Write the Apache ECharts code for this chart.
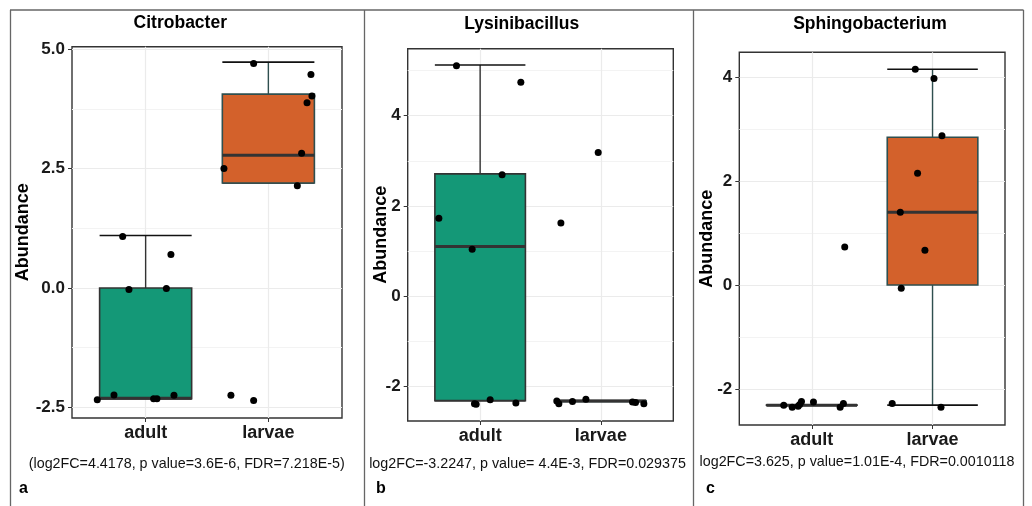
<!DOCTYPE html>
<html><head><meta charset="utf-8">
<script src="https://cdn.jsdelivr.net/npm/echarts@6/dist/echarts.min.js"></script>
<style>html,body{margin:0;padding:0;background:#fff}#c{width:1032px;height:506px}</style>
</head><body><div id="c"></div>
<script>
// ---- data ----
const categories = ['adult', 'larvae'];
const panelTitles = ['Citrobacter', 'Lysinibacillus', 'Sphingobacterium'];
const statTexts = [
  '(log2FC=4.4178, p value=3.6E-6, FDR=7.218E-5)',
  'log2FC=-3.2247, p value= 4.4E-3, FDR=0.029375',
  'log2FC=3.625, p value=1.01E-4, FDR=0.0010118'
];
const panelLetters = ['a', 'b', 'c'];
// y axis ranges and tick labels
const yRangeA = [-2.724, 5.054];
const yRangeB = [-2.76, 5.48];
const yRangeC = [-2.692, 4.475];
const yTicksA = [-2.5, 0, 2.5, 5];
const yTicksB = [-2, 0, 2, 4];
const yTicksC = [-2, 0, 2, 4];
const yMinorA = [-1.25, 1.25, 3.75];
const yMinorB = [-1, 1, 3, 5];
const yMinorC = [-1, 1, 3];
// box stats: [xIndex, lowerWhisker, Q1, median, Q3, upperWhisker]
const boxA = [[1, -2.32, -2.32, -2.31, 0.0, 1.10], [2, 2.20, 2.20, 2.78, 4.06, 4.73]];
const boxB = [[1, -2.31, -2.31, 1.10, 2.71, 5.12], [2, -2.33, -2.325, -2.32, -2.315, -2.31]];
const boxC = [[1, -2.315, -2.312, -2.31, -2.308, -2.305], [2, -2.31, 0.0, 1.40, 2.84, 4.15]];
// jittered points [x, y]
const pointsA = [
  [0.606, -2.34], [0.742, -2.24], [0.813, 1.08], [0.864, -0.03], [1.065, -2.32], [1.092, -2.32],
  [1.169, -0.01], [1.206, 0.70], [1.231, -2.25],
  [1.638, 2.50], [1.695, -2.25], [1.880, 4.70], [1.880, -2.36], [2.236, 2.14], [2.271, 2.82],
  [2.315, 3.88], [2.347, 4.47], [2.355, 4.02]
];
const pointsB = [
  [0.658, 1.73], [0.804, 5.10], [0.934, 1.04], [0.953, -2.38], [0.967, -2.39], [1.083, -2.29],
  [1.182, 2.69], [1.296, -2.36], [1.337, 4.74],
  [1.635, -2.32], [1.652, -2.38], [1.669, 1.62], [1.765, -2.33], [1.876, -2.28], [1.978, 3.18],
  [2.262, -2.34], [2.287, -2.35], [2.356, -2.38]
];
const pointsC = [
  [0.768, -2.31], [0.838, -2.35], [0.887, -2.33], [0.915, -2.24], [0.900, -2.30], [1.014, -2.25],
  [1.235, -2.35], [1.262, -2.28], [1.273, 0.73],
  [1.666, -2.28], [1.733, 1.40], [1.741, -0.06], [1.857, 4.15], [1.876, 2.15], [1.937, 0.67],
  [2.012, 3.97], [2.070, -2.35], [2.078, 2.87]
];

// ---- layout / styles ----
const FONT = '"Liberation Sans", Arial, sans-serif';
const fills = ['#149877', '#D3612B'];
const borders = ['#333333', '#2F4F4F'];
const grids = [
  {left: 72, top: 46.7, width: 270, height: 371.3},
  {left: 407.7, top: 48.7, width: 265.6, height: 372.3},
  {left: 739.3, top: 52.3, width: 265.7, height: 372.7}
];
const nameGaps = [40, 18, 23];
const panels = [
  {range: yRangeA, ticks: yTicksA, minor: yMinorA, box: boxA, pts: pointsA, fmt: v => v.toFixed(1)},
  {range: yRangeB, ticks: yTicksB, minor: yMinorB, box: boxB, pts: pointsB, fmt: v => String(v)},
  {range: yRangeC, ticks: yTicksC, minor: yMinorC, box: boxC, pts: pointsC, fmt: v => String(v)}
];

const option = {animation: false, grid: [], xAxis: [], yAxis: [], series: [], graphic: []};

panels.forEach((p, i) => {
  const g = grids[i];
  option.grid.push({left: g.left, top: g.top, width: g.width, height: g.height,
    show: true, borderColor: '#333333', borderWidth: 1.4, backgroundColor: '#fff', z: 0});
  option.xAxis.push({
    type: 'value', gridIndex: i, min: 0.4, max: 2.6,
    axisLine: {show: false, onZero: false},
    axisTick: {show: true, length: 4, lineStyle: {color: '#333', width: 1}, customValues: [1, 2]},
    axisLabel: {customValues: [1, 2], formatter: v => categories[Math.round(v) - 1] || '',
      fontFamily: FONT, fontWeight: 'bold', fontSize: 18, color: '#1a1a1a', margin: 6},
    splitLine: {show: true, lineStyle: {color: '#EBEBEB', width: 1.2}}
  });
  option.yAxis.push({
    type: 'value', gridIndex: i, min: p.range[0], max: p.range[1],
    name: 'Abundance', nameLocation: 'middle', nameRotate: 90, nameGap: nameGaps[i],
    nameMoveOverlap: false,
    nameTextStyle: {fontFamily: FONT, fontWeight: 'bold', fontSize: 18, color: '#000'},
    axisLine: {show: false, onZero: false},
    axisTick: {show: true, length: 4, lineStyle: {color: '#333', width: 1}, customValues: p.ticks},
    axisLabel: {customValues: p.ticks, formatter: p.fmt,
      fontFamily: FONT, fontWeight: 'bold', fontSize: 17, color: '#1a1a1a', margin: 7},
    splitLine: {show: true, lineStyle: {color: '#EBEBEB', width: 1.2}}
  });
});
// minor grid y axes
panels.forEach((p, i) => {
  option.yAxis.push({
    type: 'value', gridIndex: i, min: p.range[0], max: p.range[1],
    axisLine: {show: false, onZero: false}, axisLabel: {show: false},
    axisTick: {show: false, customValues: p.minor},
    splitLine: {show: true, lineStyle: {color: '#F3F3F3', width: 1}}
  });
});

function renderBox(params, api) {
  const x = api.value(0);
  const lo = api.value(1), q1 = api.value(2), med = api.value(3), q3 = api.value(4), hi = api.value(5);
  const half = api.size([0.75, 0])[0] / 2;
  const c = api.coord([x, med]);
  const y = v => api.coord([x, v])[1];
  const idx = params.dataIndex;
  const bc = borders[idx];
  return {
    type: 'group',
    children: [
      {type: 'line', shape: {x1: c[0], y1: y(hi), x2: c[0], y2: y(lo)}, style: {stroke: bc, lineWidth: 1.4}},
      {type: 'line', shape: {x1: c[0] - half, y1: y(hi), x2: c[0] + half, y2: y(hi)}, style: {stroke: '#111', lineWidth: 1.6}},
      {type: 'line', shape: {x1: c[0] - half, y1: y(lo), x2: c[0] + half, y2: y(lo)}, style: {stroke: '#111', lineWidth: 1.6}},
      {type: 'rect', shape: {x: c[0] - half, y: y(q3), width: 2 * half, height: y(q1) - y(q3)},
        style: {fill: fills[idx], stroke: bc, lineWidth: 1.6}},
      {type: 'line', shape: {x1: c[0] - half, y1: y(med), x2: c[0] + half, y2: y(med)}, style: {stroke: '#333', lineWidth: 3}}
    ]
  };
}

panels.forEach((p, i) => {
  option.series.push({
    type: 'custom', xAxisIndex: i, yAxisIndex: i, renderItem: renderBox,
    data: p.box, z: 2, silent: true
  });
  option.series.push({
    type: 'scatter', xAxisIndex: i, yAxisIndex: i, data: p.pts,
    symbol: 'circle', symbolSize: 7, itemStyle: {color: '#000', opacity: 1}, z: 3, silent: true
  });
});

// titles, stats, letters
const titleX = [180.3, 521.7, 870];
const titleY = [23.3, 24, 24];
const statX = [186.7, 527.5, 857];
const statY = [464, 464, 462];
const letterX = [19, 376, 706];
panelTitles.forEach((t, i) => {
  option.graphic.push({type: 'text', x: titleX[i], y: titleY[i],
    style: {text: t, fontFamily: FONT, fontWeight: 'bold', fontSize: 17.5, fill: '#000', align: 'center', verticalAlign: 'middle'}});
  option.graphic.push({type: 'text', x: statX[i], y: statY[i],
    style: {text: statTexts[i], fontFamily: FONT, fontSize: 14.3, fill: '#111', align: 'center', verticalAlign: 'middle'}});
  option.graphic.push({type: 'text', x: letterX[i], y: 489,
    style: {text: panelLetters[i], fontFamily: FONT, fontWeight: 'bold', fontSize: 16, fill: '#000', align: 'left', verticalAlign: 'middle'}});
});
// figure frame
const frameStyle = {stroke: '#666', lineWidth: 1.3};
[[10, 10, 1023.5, 10], [10.5, 10, 10.5, 506], [364.5, 10, 364.5, 506], [693.5, 10, 693.5, 506], [1023.5, 10, 1023.5, 506]]
  .forEach(s => option.graphic.push({type: 'line', shape: {x1: s[0], y1: s[1], x2: s[2], y2: s[3]}, style: frameStyle, silent: true}));

const chart = echarts.init(document.getElementById('c'), null, {renderer: 'canvas'});
chart.setOption(option);
</script></body></html>
